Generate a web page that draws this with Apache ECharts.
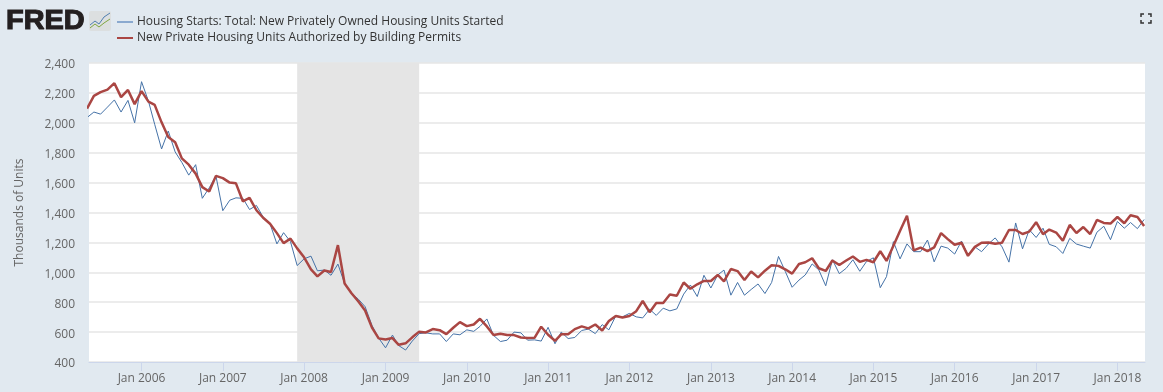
<!DOCTYPE html>
<html><head><meta charset="utf-8">
<style>html,body{margin:0;padding:0;background:#e1e9f0}#c{width:1163px;height:392px}</style>
<script src="https://cdn.jsdelivr.net/npm/echarts@6/dist/echarts.min.js"></script>
</head><body><div id="c"></div>
<script>
var startsName = 'Housing Starts: Total: New Privately Owned Housing Units Started';
var permitsName = 'New Private Housing Units Authorized by Building Permits';
var yTicks = [400, 2400];
var firstMonth = [2005, 4];
var recession = ['2007-12-01', '2009-06-01'];
var starts = [
2035,2072,2058,2105,2153,2072,2150,2000,
2275,2145,1990,1825,1945,1805,1735,1650,1720,1495,1565,1645,
1412,1482,1498,1495,1420,1447,1370,1325,1190,1265,1205,1045,
1090,1108,1010,1015,980,1055,925,860,820,770,645,560,
495,580,510,480,540,590,595,588,588,537,588,582,
615,605,638,688,578,537,546,600,595,546,548,540,
632,522,600,557,564,611,620,590,650,615,708,702,
725,702,695,753,712,760,742,755,854,915,838,980,
895,982,1015,847,932,847,885,922,858,932,1106,1007,
900,948,982,1056,1016,910,1084,991,1027,1084,1007,1072,
1097,897,971,1205,1090,1190,1138,1138,1216,1070,1175,1162,
1122,1209,1115,1170,1138,1190,1230,1170,1068,1330,1157,1285,
1233,1295,1187,1171,1126,1227,1189,1175,1162,1268,1308,1218,
1340,1295,1333,1292,1353];
var permits = [
2095,2180,2205,2222,2265,2172,2220,2125,
2212,2142,2120,2003,1905,1870,1762,1720,1660,1570,1540,1645,
1630,1600,1595,1475,1498,1415,1365,1325,1262,1195,1225,1160,
1100,1020,973,1012,1002,1182,925,860,805,745,630,558,
550,560,515,525,565,603,598,620,613,586,629,667,
640,651,689,638,580,589,580,580,564,560,562,636,
582,542,585,585,620,638,625,651,611,674,708,698,
708,740,808,733,795,795,852,843,932,890,920,942,
942,982,940,1022,1008,948,1005,966,1011,1047,1043,1020,
991,1056,1067,1094,1027,1009,1079,1049,1079,1106,1070,1083,
1067,1141,1076,1178,1278,1378,1147,1165,1142,1167,1262,1222,
1184,1198,1110,1170,1198,1200,1191,1198,1283,1283,1256,1272,
1335,1255,1286,1266,1211,1317,1263,1303,1256,1350,1330,1326,
1370,1328,1382,1370,1310];

function monthDate(i){ return Date.UTC(firstMonth[0], firstMonth[1] + i, 1); }
function pairs(v){ return v.map(function(y,i){ return [monthDate(i), y]; }); }
var FONT = '"Open Sans", sans-serif';
var YEAR = 365.25*24*3600*1000;
var chart = echarts.init(document.getElementById('c'), null, {renderer:'canvas'});
chart.setOption({
  animation:false,
  backgroundColor:'#e1e9f0',
  useUTC:true,
  grid:{left:89,right:18,top:63,bottom:30,show:true,backgroundColor:'#ffffff',borderWidth:0,containLabel:false},
  legend:{left:112,top:9,orient:'vertical',itemWidth:16,itemHeight:2,itemGap:0,selectedMode:false,
    icon:'rect',
    textStyle:{fontFamily:FONT,fontSize:12,color:'#333333',padding:[0,0,0,-1],lineHeight:16},
    data:[{name:startsName,itemStyle:{color:'#8aa9cf'}},{name:permitsName}]},
  xAxis:{type:'time',min:Date.UTC(2005,4,10),max:Date.UTC(2018,4,5),
    minInterval:YEAR,maxInterval:YEAR,splitNumber:13,
    axisLine:{lineStyle:{color:'#ccd6eb',width:1}},
    axisTick:{show:true,length:9,lineStyle:{color:'#ccd6eb',width:1}},
    splitLine:{show:false},minorTick:{show:false},
    axisLabel:{fontFamily:FONT,fontSize:12,color:'#666666',margin:11,showMinLabel:false,showMaxLabel:false,hideOverlap:false,
      formatter:function(v){return 'Jan '+new Date(v).getUTCFullYear();}}},
  yAxis:{type:'value',min:yTicks[0],max:yTicks[1],interval:200,
    name:'Thousands of Units',nameLocation:'middle',nameGap:63,nameRotate:90,
    nameTextStyle:{fontFamily:FONT,fontSize:12,color:'#666666'},
    axisLine:{show:false},axisTick:{show:false},
    splitLine:{lineStyle:{color:'#e6e6e6',width:1.5}},
    axisLabel:{margin:14,
      rich:{v:{fontFamily:FONT,fontSize:12,color:'#666666',padding:[4,0,0,0]}},
      formatter:function(v){return '{v|'+(v>=1000?Math.floor(v/1000)+','+String(v%1000).padStart(3,'0'):String(v))+'}';}}},
  series:[
    {name:startsName,type:'line',data:pairs(starts),showSymbol:false,symbol:'none',clip:true,
     lineStyle:{color:'#4572a7',width:1},itemStyle:{color:'#4572a7'},z:3,
     markArea:{silent:true,itemStyle:{color:'#e5e5e5'},data:[[{xAxis:recession[0]},{xAxis:recession[1]}]]}},
    {name:permitsName,type:'line',data:pairs(permits),showSymbol:false,symbol:'none',clip:true,
     lineStyle:{color:'#aa4643',width:2.5},itemStyle:{color:'#aa4643'},z:4}
  ],
  graphic:[
    {type:'text',x:6,y:8,scaleX:1.07,style:{text:'FRED',fontFamily:'"Liberation Sans"',fontWeight:'bold',fontSize:27,fill:'#231f20',stroke:'#231f20',lineWidth:1.1}},
    {type:'rect',shape:{x:89,y:11,width:22,height:20,r:2},style:{fill:'#dcdfe0'}},
    {type:'polyline',shape:{points:[[90,25],[95,21],[99,24],[104,17],[110,13]]},style:{stroke:'#4f7fb0',lineWidth:1,fill:null}},
    {type:'polyline',shape:{points:[[90,28],[95,24],[99,27],[104,23],[110,19]]},style:{stroke:'#7fa63f',lineWidth:1,fill:null}},
    {type:'polyline',shape:{points:[[1141,17],[1141,14],[1144,14]]},style:{stroke:'#333',lineWidth:1.5,fill:null}},
    {type:'polyline',shape:{points:[[1148,14],[1151,14],[1151,17]]},style:{stroke:'#333',lineWidth:1.5,fill:null}},
    {type:'polyline',shape:{points:[[1141,20],[1141,23],[1144,23]]},style:{stroke:'#333',lineWidth:1.5,fill:null}},
    {type:'polyline',shape:{points:[[1148,23],[1151,23],[1151,20]]},style:{stroke:'#333',lineWidth:1.5,fill:null}}
  ]
});
</script></body></html>
